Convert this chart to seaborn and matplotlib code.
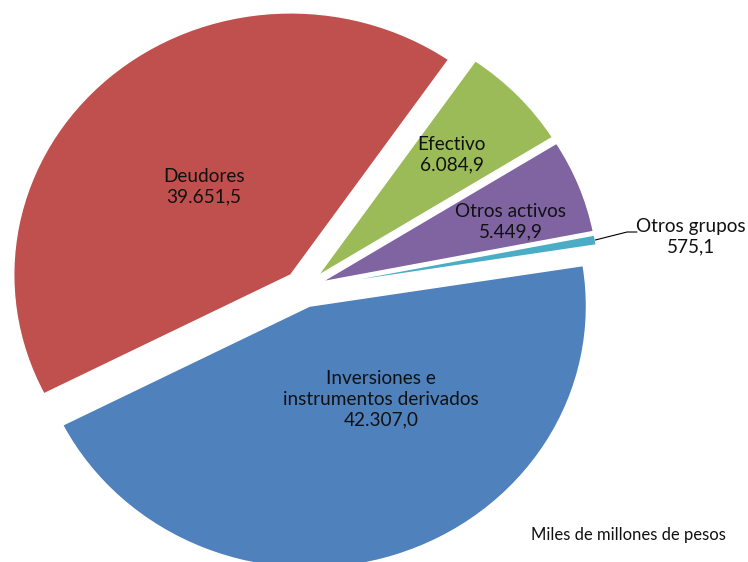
import numpy as np
import matplotlib
matplotlib.use("Agg")
import matplotlib.pyplot as plt
import seaborn as sns

# data (miles de millones de pesos)
categories = ["Inversiones e\ninstrumentos derivados", "Otros grupos", "Otros activos", "Efectivo", "Deudores"]
values = [42307.0, 575.1, 5449.9, 6084.9, 39651.5]
value_labels = ["42.307,0", "575,1", "5.449,9", "6.084,9", "39.651,5"]
colors = ["#4F81BD", "#4BACC6", "#8064A2", "#9BBB59", "#C0504D"]

sns.set_theme(style="white")
plt.rcParams['font.family'] = ['Lato', 'DejaVu Sans']

fig = plt.figure(figsize=(7.48, 5.62), dpi=100)
ax = fig.add_axes([0, 0, 1, 1])

wedges, _ = ax.pie(values, colors=colors, startangle=207, counterclock=True,
                   explode=[0.07] * len(values), radius=1,
                   wedgeprops=dict(edgecolor="white", linewidth=1))

# picture is a bit wider than tall, so use separate x/y scales (px per unit)
ax.set_aspect("auto")
ax.set_xlim(-303.5 / 277, (748 - 303.5) / 277)
ax.set_ylim(-(562 - 288.7) / 262, 288.7 / 262)
ax.axis("off")

# inside labels: (distance from wedge apex, angle shift)
inside = {0: (0.44, 18), 2: (0.72, -3), 3: (0.67, 0), 4: (0.46, 2)}
for i, (dist, dth) in inside.items():
    w = wedges[i]
    th = np.deg2rad((w.theta1 + w.theta2) / 2 + dth)
    cx, cy = w.center
    ax.text(cx + dist * np.cos(th), cy + dist * np.sin(th),
            categories[i] + "\n" + value_labels[i],
            ha="center", va="center", multialignment="center",
            fontsize=13.7, color="#111111", linespacing=1.25)

# Otros grupos label outside with leader line
w = wedges[1]
th = np.deg2rad((w.theta1 + w.theta2) / 2)
x0 = w.center[0] + np.cos(th)
y0 = w.center[1] + np.sin(th)
ax.plot([x0, 1.168, 1.204], [y0, 0.2164, 0.2164], color="black", lw=0.8)
ax.text(1.40, 0.197, categories[1] + "\n" + value_labels[1],
        ha="center", va="center", multialignment="center",
        fontsize=13.7, color="#111111", linespacing=1.25)

fig.text(628 / 748, 1 - 535 / 562, "Miles de millones de pesos",
         ha="center", va="center", fontsize=12, color="#111111")

fig.savefig("out.png", dpi=100, facecolor="white")
